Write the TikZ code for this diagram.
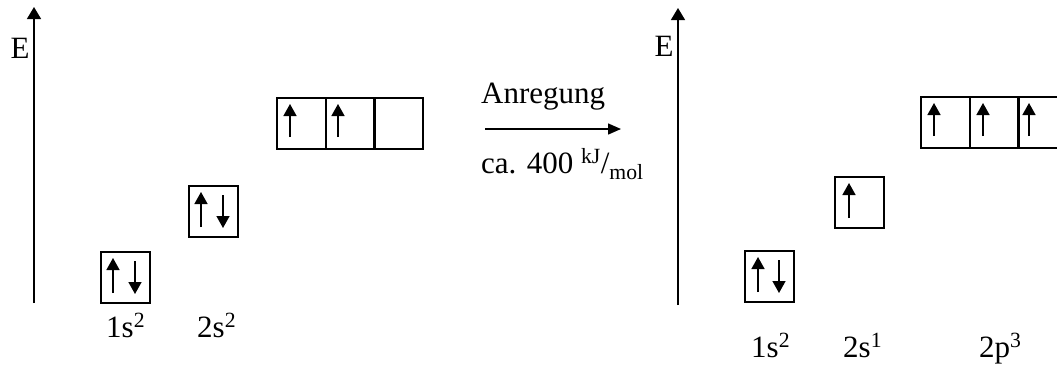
\documentclass[tikz,border=0pt]{standalone}
\usepackage{fontspec}
\setmainfont{Liberation Serif}
\usetikzlibrary{arrows.meta}
\begin{document}
\begin{tikzpicture}[x=1pt,y=-1pt,
  every node/.style={font=\fontsize{31}{36}\selectfont,inner sep=0pt},
  orb/.style={draw,line width=1.6pt,minimum width=49pt,minimum height=51pt,anchor=north west},
  axis/.style={line width=1.5pt,-{Triangle[length=12pt,width=14pt]}},
  spin/.style={line width=1.5pt,-{Triangle[length=12pt,width=13pt]}},
  react/.style={line width=1.5pt,-{Triangle[length=13pt,width=11pt]}},
  lbl/.style={anchor=base west}]
\useasboundingbox (0,0) rectangle (1057,365);
% ---------- left diagram ----------
\coordinate (aLb) at (34,303);
\coordinate (aLt) at (34,7);
\draw[axis] (aLb) -- (aLt);
\node[anchor=base] (EL) at (20,58) {E};
\node[orb] (L1s) at (100,251) {};
\node[orb] (L2s) at (188,185) {};
\node[orb] (L2pa) at (276,97) {};
\node[orb] (L2pb) at (325,97) {};
\node[orb] (L2pc) at (373,97) {};
% spins
\draw[spin] ([xshift=13pt,yshift=-42pt]L1s.north west) -- ++(0,-35);
\draw[spin] ([xshift=35pt,yshift=-10pt]L1s.north west) -- ++(0,33);
\draw[spin] ([xshift=13pt,yshift=-42pt]L2s.north west) -- ++(0,-35);
\draw[spin] ([xshift=35pt,yshift=-10pt]L2s.north west) -- ++(0,33);
\draw[spin] ([xshift=14pt,yshift=-40pt]L2pa.north west) -- ++(0,-33);
\draw[spin] ([xshift=13pt,yshift=-40pt]L2pb.north west) -- ++(0,-33);
\node[lbl] (l1) at (106,337) {1s\textsuperscript{2}};
\node[lbl] (l2) at (197,337) {2s\textsuperscript{2}};
% ---------- middle ----------
\coordinate (m1) at (485,129);
\coordinate (m2) at (621,129);
\draw[react] (m1) -- (m2);
\node[lbl] (an) at (481,103) {Anregung};
\node[lbl] (ca) at (481,173) {ca. 400 \textsuperscript{kJ}/\textsubscript{mol}};
% ---------- right diagram ----------
\coordinate (aRb) at (678,305);
\coordinate (aRt) at (678,8);
\draw[axis] (aRb) -- (aRt);
\node[anchor=base] (ER) at (664,56) {E};
\node[orb] (R1s) at (744,250) {};
\node[orb] (R2s) at (834,176) {};
\node[orb] (R2pa) at (920,96) {};
\node[orb] (R2pb) at (969,96) {};
\node[orb] (R2pc) at (1017,96) {};
\draw[spin] ([xshift=14pt,yshift=-42pt]R1s.north west) -- ++(0,-35);
\draw[spin] ([xshift=35pt,yshift=-10pt]R1s.north west) -- ++(0,33);
\draw[spin] ([xshift=15pt,yshift=-42pt]R2s.north west) -- ++(0,-35);
\draw[spin] ([xshift=14pt,yshift=-40pt]R2pa.north west) -- ++(0,-33);
\draw[spin] ([xshift=14pt,yshift=-40pt]R2pb.north west) -- ++(0,-33);
\draw[spin] ([xshift=12pt,yshift=-40pt]R2pc.north west) -- ++(0,-33);
\node[lbl] (r1) at (751,357) {1s\textsuperscript{2}};
\node[lbl] (r2) at (843,357) {2s\textsuperscript{1}};
\node[lbl] (r3) at (979,357) {2p\textsuperscript{3}};
\end{tikzpicture}
\end{document}
